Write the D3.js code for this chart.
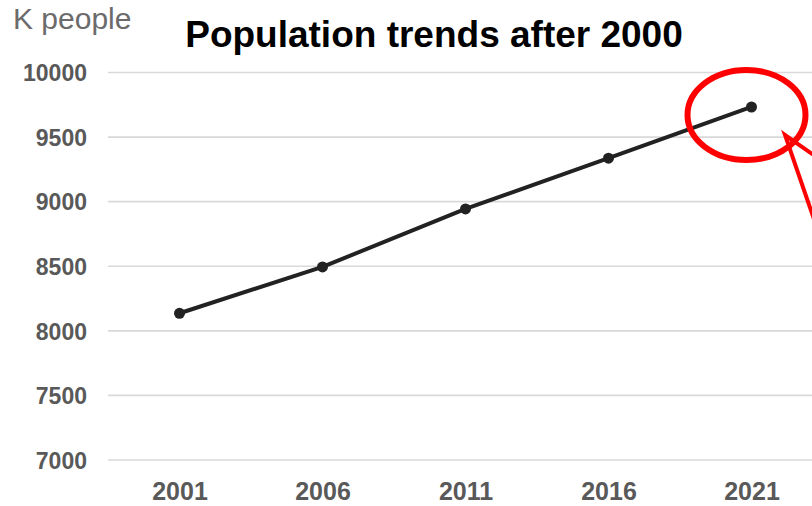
<!DOCTYPE html>
<html>
<head>
<meta charset="utf-8">
<script src="https://cdn.jsdelivr.net/npm/d3@7"></script>
<style>
  html, body { margin: 0; padding: 0; background: #fff; }
  svg { display: block; }
</style>
</head>
<body>
<svg id="chart" width="812" height="506"></svg>
<script>
const years = ["2001", "2006", "2011", "2016", "2021"];
const population = [8136, 8495, 8944, 9337, 9733];
const yTicks = [7000, 7500, 8000, 8500, 9000, 9500, 10000];
const titleText = "Population trends after 2000";
const unitText = "K people";

(function () {
const svg = d3.select("#chart");
const W = 812;
const mLeft = 108, mRight = 823, mTop = 72.5, mBottom = 460;

const x = d3.scalePoint().domain(years).range([mLeft, mRight]).padding(0.5);
const y = d3.scaleLinear().domain([7000, 10000]).range([mBottom, mTop]);

// gridlines
svg.append("g")
  .selectAll("line")
  .data(yTicks)
  .join("line")
  .attr("x1", mLeft).attr("x2", W + 20)
  .attr("y1", d => y(d)).attr("y2", d => y(d))
  .attr("stroke", "#d9d9d9").attr("stroke-width", 1.6);

// y axis labels
const yAxis = d3.axisLeft(y).tickValues(yTicks).tickSize(0).tickPadding(0).tickFormat(d3.format("d"));
const gy = svg.append("g").attr("transform", "translate(87,0)").call(yAxis);
gy.select(".domain").remove();
gy.selectAll("text")
  .attr("font-family", "Liberation Sans, Arial, sans-serif")
  .attr("font-weight", "bold").attr("font-size", 23)
  .attr("fill", "#595959").attr("dy", "0.36em");

// x axis labels
const xAxis = d3.axisBottom(x).tickSize(0).tickPadding(0);
const gx = svg.append("g").attr("transform", "translate(0,482)").call(xAxis);
gx.select(".domain").remove();
gx.selectAll("text")
  .attr("font-family", "Liberation Sans, Arial, sans-serif")
  .attr("font-weight", "bold").attr("font-size", 25)
  .attr("fill", "#595959").attr("dy", "0.71em");

// line
const line = d3.line().x((d, i) => x(years[i])).y(d => y(d));
svg.append("path")
  .datum(population)
  .attr("d", line)
  .attr("fill", "none").attr("stroke", "#222").attr("stroke-width", 4)
  .attr("stroke-linejoin", "round");

svg.append("g").selectAll("circle")
  .data(population)
  .join("circle")
  .attr("cx", (d, i) => x(years[i])).attr("cy", d => y(d))
  .attr("r", 5.5).attr("fill", "#222");

// title
svg.append("text")
  .attr("x", 434).attr("y", 47)
  .attr("text-anchor", "middle")
  .attr("font-family", "Liberation Sans, Arial, sans-serif")
  .attr("font-weight", "bold").attr("font-size", 37)
  .attr("fill", "#000")
  .text(titleText);

// unit label
svg.append("text")
  .attr("x", 13).attr("y", 29)
  .attr("font-family", "Liberation Sans, Arial, sans-serif")
  .attr("font-size", 30)
  .attr("fill", "#6b6b6b")
  .text(unitText);

// highlight ellipse around last point
const last = population.length - 1;
svg.append("ellipse")
  .attr("cx", x(years[last]) - 5).attr("cy", y(population[last]) + 8)
  .attr("rx", 59).attr("ry", 45)
  .attr("fill", "none").attr("stroke", "#ff0000").attr("stroke-width", 6);

// arrow
svg.append("polyline")
  .attr("points", "815,222 785,135 815,156")
  .attr("fill", "none").attr("stroke", "#ff0000").attr("stroke-width", 4)
  .attr("stroke-linejoin", "miter");
})();
</script>
</body>
</html>
